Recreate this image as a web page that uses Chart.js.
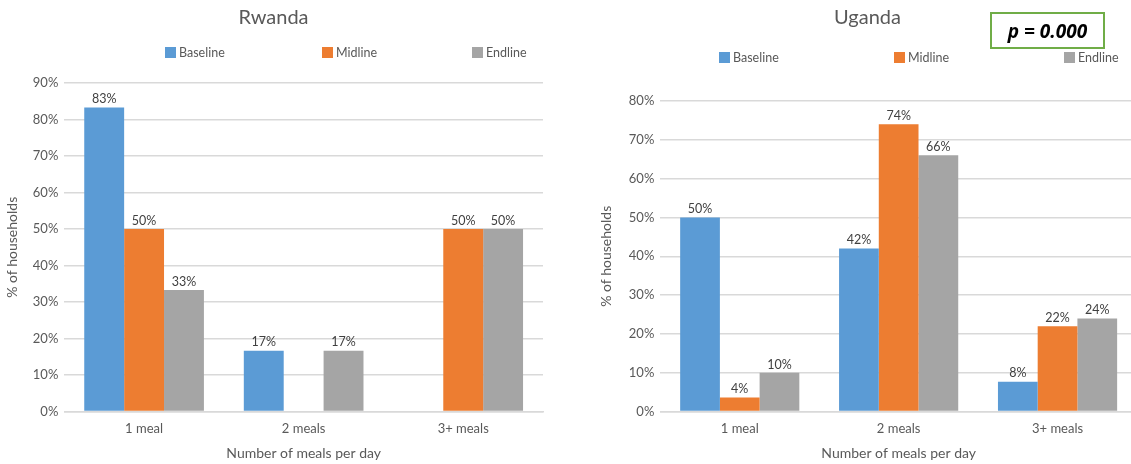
<!DOCTYPE html>
<html>
<head>
<meta charset="utf-8">
<script src="https://cdn.jsdelivr.net/npm/chart.js@4/dist/chart.umd.min.js"></script>
<style>
  body { margin: 0; background: #fff; overflow: hidden; font-family: Lato, "Noto Sans", sans-serif; }
  .wrap { position: absolute; top: 0; height: 464px; }
  .leg { position: absolute; font-size: 12.5px; color: #595959; white-space: nowrap; }
  .leg span { display: inline-block; width: 11px; height: 11px; vertical-align: -1px; margin-right: 3px; }
  #pbox { position: absolute; left: 990px; top: 12px; width: 111px; height: 33px; border: 2px solid #70AD47;
          font: italic bold 19px "Open Sans", sans-serif; color: #000; text-align: center; line-height: 35px; }
</style>
</head>
<body>
<div class="wrap" style="left:0;width:560px"><canvas id="rwanda"></canvas></div>
<div class="wrap" style="left:585px;width:552px"><canvas id="uganda"></canvas></div>

<div class="leg" style="left:165px;top:45px"><span style="background:#5B9BD5"></span>Baseline</div>
<div class="leg" style="left:322px;top:45px"><span style="background:#ED7D31"></span>Midline</div>
<div class="leg" style="left:472px;top:45px"><span style="background:#A5A5A5"></span>Endline</div>

<div class="leg" style="left:719px;top:50px"><span style="background:#5B9BD5"></span>Baseline</div>
<div class="leg" style="left:894px;top:50px"><span style="background:#ED7D31"></span>Midline</div>
<div class="leg" style="left:1064px;top:50px"><span style="background:#A5A5A5"></span>Endline</div>

<div id="pbox">p = 0.000</div>

<script>
// data
const meals = ['1 meal', '2 meals', '3+ meals'];
const rounds = ['Baseline', 'Midline', 'Endline'];
const colors = ['#5B9BD5', '#ED7D31', '#A5A5A5'];

const rwandaBaseline = [83.3, 16.7, 0];
const rwandaMidline = [50, 0, 50];
const rwandaEndline = [33.3, 16.7, 50];

const ugandaBaseline = [50, 42, 7.7];
const ugandaMidline = [3.6, 74, 22];
const ugandaEndline = [10, 66, 24];

// labels on top of bars
const barLabels = {
  id: 'barLabels',
  afterDatasetsDraw(chart) {
    const ctx = chart.ctx;
    ctx.save();
    ctx.font = '12.5px Lato, sans-serif';
    ctx.fillStyle = '#404040';
    ctx.textAlign = 'center';
    ctx.textBaseline = 'bottom';
    chart.data.datasets.forEach((ds, i) => {
      chart.getDatasetMeta(i).data.forEach((bar, j) => {
        if (ds.data[j] > 0) ctx.fillText(Math.round(ds.data[j]) + '%', bar.x, bar.y - 2);
      });
    });
    ctx.restore();
  }
};

function makeChart(id, title, series, max, pad) {
  return new Chart(document.getElementById(id), {
    type: 'bar',
    data: {
      labels: meals,
      datasets: series.map((s, i) => ({
        label: rounds[i],
        data: s,
        backgroundColor: colors[i],
        categoryPercentage: 0.75,
        barPercentage: 1
      }))
    },
    options: {
      responsive: true,
      maintainAspectRatio: false,
      animation: false,
      layout: { padding: { left: pad.left, right: pad.right, top: 0, bottom: 2 } },
      plugins: {
        legend: { display: false },
        tooltip: { enabled: false },
        title: {
          display: true,
          text: title,
          color: '#595959',
          font: { family: 'Lato', size: 20, weight: 'normal' },
          padding: { top: 6, bottom: pad.titleGap }
        }
      },
      scales: {
        x: {
          grid: { display: false, drawTicks: false },
          border: { color: '#D9D9D9', width: 1.5 },
          ticks: { color: '#595959', font: { family: 'Lato', size: 13 }, padding: 9 },
          title: {
            display: true, text: 'Number of meals per day', color: '#595959',
            font: { family: 'Lato', size: 14 }, padding: { top: 0, bottom: 0 }
          }
        },
        y: {
          min: 0, max: max,
          ticks: { stepSize: 10, color: '#595959', font: { family: 'Lato', size: 13 }, padding: 6,
                   callback: v => v + '%' },
          grid: { color: '#D9D9D9', lineWidth: 1.5, drawTicks: false },
          border: { display: false },
          title: {
            display: true, text: '% of households', color: '#595959',
            font: { family: 'Lato', size: 14 }, padding: { top: 0, bottom: pad.yTitleGap }
          }
        }
      }
    },
    plugins: [barLabels]
  });
}

makeChart('rwanda', 'Rwanda', [rwandaBaseline, rwandaMidline, rwandaEndline], 90,
  { left: 4, right: 17, titleGap: 53, yTitleGap: 6 });
makeChart('uganda', 'Uganda', [ugandaBaseline, ugandaMidline, ugandaEndline], 80,
  { left: 13, right: 0, titleGap: 71, yTitleGap: 8 });
</script>
</body>
</html>
